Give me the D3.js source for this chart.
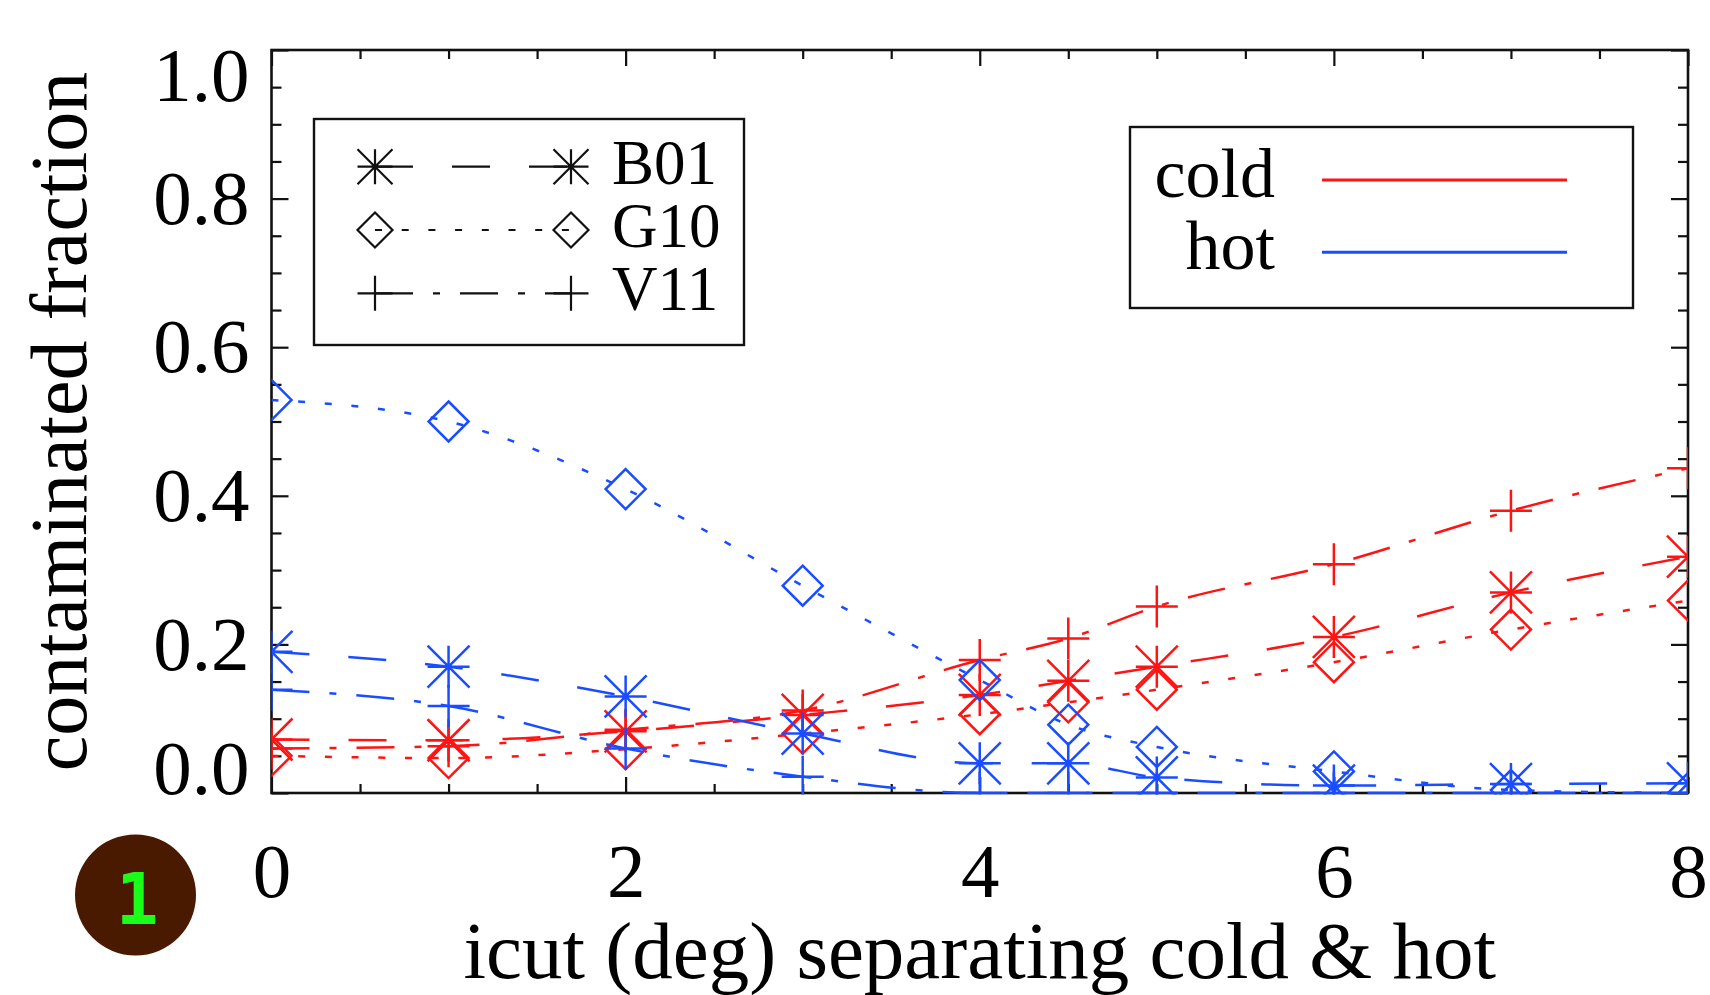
<!DOCTYPE html>
<html>
<head>
<meta charset="utf-8">
<script src="https://cdn.jsdelivr.net/npm/d3@7"></script>
<style>
  html, body { margin: 0; padding: 0; background: #fff; }
  svg { display: block; }
</style>
</head>
<body>
<div id="chart"></div>
<script>
// icut values (deg)
const icut = [0, 1, 2, 3, 4, 4.5, 5, 6, 7, 8];

// cold (red) contaminated fractions
const coldB01 = [0.072, 0.071, 0.083, 0.105, 0.132, 0.151, 0.170, 0.210, 0.270, 0.318];
const coldG10 = [0.050, 0.047, 0.059, 0.080, 0.106, 0.122, 0.139, 0.176, 0.220, 0.259];
const coldV11 = [0.060, 0.063, 0.085, 0.111, 0.179, 0.208, 0.251, 0.308, 0.380, 0.437];

// hot (blue) contaminated fractions
const hotB01 = [0.190, 0.170, 0.130, 0.080, 0.040, 0.040, 0.021, 0.010, 0.012, 0.013];
const hotG10 = [0.529, 0.500, 0.409, 0.279, 0.152, 0.092, 0.062, 0.029, 0.004, 0.000];
const hotV11 = [0.139, 0.117, 0.060, 0.022, 0.000, 0.000, 0.000, 0.000, 0.000, 0.000];

const xMajor = [0, 2, 4, 6, 8];
const yMajor = [0, 0.2, 0.4, 0.6, 0.8, 1.0];
const modelNames = ['B01', 'G10', 'V11'];
const popNames = ['cold', 'hot'];

const W = 1710, H = 995;
const pL = 271.5, pR = 1688, pT = 50, pB = 793;
const RED = '#ff1414', BLUE = '#1a4dff';
const serif = '"Liberation Serif", "Times New Roman", serif';

// line style + marker per model
const styles = {
  B01: { dash: '38,39', sym: 'asterisk' },
  G10: { dash: '7,19.7', sym: 'diamond' },
  V11: { dash: '38,20,7,20', sym: 'plus' }
};

const x = d3.scaleLinear().domain([0, 8]).range([pL, pR]);
const y = d3.scaleLinear().domain([0, 1]).range([pB, pT]);

const svg = d3.select('#chart').append('svg')
  .attr('width', W).attr('height', H)
  .style('font-family', serif);

svg.append('defs').append('clipPath').attr('id', 'plotclip')
  .append('rect')
  .attr('x', pL).attr('y', pT)
  .attr('width', pR - pL).attr('height', pB - pT + 1.5);

// symbol path generators
const symbolPath = (type, r) => {
  if (type === 'asterisk') {
    return `M${-r},0L${r},0M0,${-r}L0,${r}M${-r},${-r}L${r},${r}M${-r},${r}L${r},${-r}`;
  }
  if (type === 'diamond') {
    return `M0,${-r}L${r},0L0,${r}L${-r},0Z`;
  }
  return `M${-r},0L${r},0M0,${-r}L0,${r}`;
};

// axes (inward ticks on all four sides)
const minorX = d3.range(0, 8.01, 0.5).filter(v => v % 2 !== 0);
const minorY = d3.range(0, 1.001, 0.05).filter(v => Math.abs(v * 5 - Math.round(v * 5)) > 1e-6);

const styleAxis = g => {
  g.select('.domain').remove();
  g.selectAll('line').attr('stroke', '#111').attr('stroke-width', 2.2);
  g.selectAll('text').attr('fill', '#000').style('font-family', serif);
};

svg.append('g').attr('transform', `translate(${pL},0)`)
  .call(d3.axisLeft(y).tickValues(yMajor).tickSize(-17).tickSizeOuter(0)
    .tickPadding(22).tickFormat(d3.format('.1f')))
  .call(styleAxis)
  .call(g => g.selectAll('text')
    .attr('font-size', 77)
    .attr('y', d => d === 0 ? -24 : (d === 1 ? 26 : 0)));

svg.append('g').attr('transform', `translate(${pL},0)`)
  .call(d3.axisLeft(y).tickValues(minorY).tickSize(-10).tickSizeOuter(0).tickFormat(''))
  .call(styleAxis);

svg.append('g').attr('transform', `translate(${pR},0)`)
  .call(d3.axisRight(y).tickValues(yMajor).tickSize(-17).tickSizeOuter(0).tickFormat(''))
  .call(styleAxis);

svg.append('g').attr('transform', `translate(${pR},0)`)
  .call(d3.axisRight(y).tickValues(minorY).tickSize(-10).tickSizeOuter(0).tickFormat(''))
  .call(styleAxis);

svg.append('g').attr('transform', `translate(0,${pB})`)
  .call(d3.axisBottom(x).tickValues(xMajor).tickSize(-16).tickSizeOuter(0)
    .tickPadding(49).tickFormat(d3.format('d')))
  .call(styleAxis)
  .call(g => g.selectAll('text').attr('font-size', 77));

svg.append('g').attr('transform', `translate(0,${pB})`)
  .call(d3.axisBottom(x).tickValues(minorX).tickSize(-9).tickSizeOuter(0).tickFormat(''))
  .call(styleAxis);

svg.append('g').attr('transform', `translate(0,${pT})`)
  .call(d3.axisTop(x).tickValues(xMajor).tickSize(-16).tickSizeOuter(0).tickFormat(''))
  .call(styleAxis);

svg.append('g').attr('transform', `translate(0,${pT})`)
  .call(d3.axisTop(x).tickValues(minorX).tickSize(-9).tickSizeOuter(0).tickFormat(''))
  .call(styleAxis);

// frame
svg.append('rect')
  .attr('x', pL).attr('y', pT)
  .attr('width', pR - pL).attr('height', pB - pT)
  .attr('fill', 'none').attr('stroke', '#111').attr('stroke-width', 2.6);

// data lines and symbols, drawn over the frame
const line = d3.line()
  .x(d => x(d[0]))
  .y(d => y(d[1]))
  .curve(d3.curveMonotoneX);

const series = [
  { model: 'B01', color: RED, vals: coldB01 },
  { model: 'G10', color: RED, vals: coldG10 },
  { model: 'V11', color: RED, vals: coldV11 },
  { model: 'B01', color: BLUE, vals: hotB01 },
  { model: 'G10', color: BLUE, vals: hotG10 },
  { model: 'V11', color: BLUE, vals: hotV11 }
];

const plot = svg.append('g').attr('clip-path', 'url(#plotclip)');

series.forEach(s => {
  const pts = icut.map((u, i) => [u, s.vals[i]]);
  plot.append('path')
    .attr('d', line(pts))
    .attr('fill', 'none')
    .attr('stroke', s.color)
    .attr('stroke-width', 2.5)
    .attr('stroke-dasharray', styles[s.model].dash);
  plot.selectAll(null)
    .data(pts)
    .enter()
    .append('path')
    .attr('transform', d => `translate(${x(d[0])},${y(d[1])})`)
    .attr('d', symbolPath(styles[s.model].sym, styles[s.model].sym === 'diamond' ? 20 : 21))
    .attr('fill', 'none')
    .attr('stroke', s.color)
    .attr('stroke-width', 2.5);
});

// axis titles
svg.append('text')
  .attr('x', (pL + pR) / 2).attr('y', 978)
  .attr('text-anchor', 'middle').attr('font-size', 81)
  .text('icut (deg) separating cold & hot');

svg.append('text')
  .attr('transform', `translate(86,${(pT + pB) / 2}) rotate(-90)`)
  .attr('text-anchor', 'middle').attr('font-size', 80)
  .text('contaminated fraction');

// legend: models
const leg1 = svg.append('g');
leg1.append('rect')
  .attr('x', 314).attr('y', 119).attr('width', 430).attr('height', 226)
  .attr('fill', '#fff').attr('stroke', '#111').attr('stroke-width', 2.4);

const rowY = [166.7, 230, 293.3];
modelNames.forEach((m, i) => {
  const yy = rowY[i];
  leg1.append('line')
    .attr('x1', 375).attr('x2', 571).attr('y1', yy).attr('y2', yy)
    .attr('stroke', '#111').attr('stroke-width', 2.2)
    .attr('stroke-dasharray', styles[m].dash);
  [375, 571].forEach(sx => {
    leg1.append('path')
      .attr('transform', `translate(${sx},${yy})`)
      .attr('d', symbolPath(styles[m].sym, 17.5))
      .attr('fill', 'none').attr('stroke', '#111').attr('stroke-width', 2.2);
  });
  leg1.append('text')
    .attr('x', 612).attr('y', yy + 17)
    .attr('font-size', 63)
    .text(m);
});

// legend: populations
const leg2 = svg.append('g');
leg2.append('rect')
  .attr('x', 1130).attr('y', 127).attr('width', 503).attr('height', 181)
  .attr('fill', '#fff').attr('stroke', '#111').attr('stroke-width', 2.4);

const popY = [180, 252.3];
const popColor = [RED, BLUE];
popNames.forEach((p, i) => {
  leg2.append('text')
    .attr('x', 1275).attr('y', popY[i] + 17)
    .attr('text-anchor', 'end').attr('font-size', 70)
    .text(p);
  leg2.append('line')
    .attr('x1', 1322).attr('x2', 1567).attr('y1', popY[i]).attr('y2', popY[i])
    .attr('stroke', popColor[i]).attr('stroke-width', 3);
});

// panel badge
svg.append('circle')
  .attr('cx', 135.5).attr('cy', 895).attr('r', 60.5)
  .attr('fill', '#4a1a00');
svg.append('text')
  .attr('x', 137).attr('y', 924)
  .attr('text-anchor', 'middle')
  .attr('font-family', '"DejaVu Sans Mono", monospace')
  .attr('font-weight', 'bold').attr('font-size', 71)
  .attr('fill', '#1aff1a')
  .text('1');
</script>
</body>
</html>
